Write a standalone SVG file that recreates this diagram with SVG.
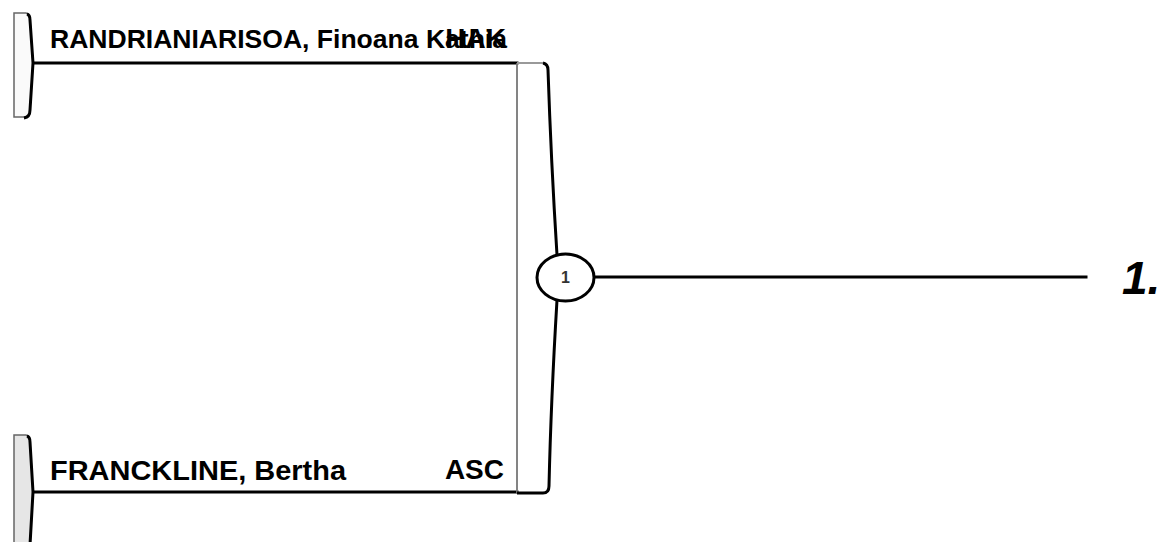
<svg xmlns="http://www.w3.org/2000/svg" width="1164" height="542" viewBox="0 0 1164 542">
<style>
.name{font-family:"Liberation Sans",Arial,sans-serif;font-weight:bold;fill:#000}
.club{font-family:"Liberation Sans",Arial,sans-serif;font-weight:bold;font-size:28px;fill:#000;text-anchor:end}
.line{stroke:#000;stroke-width:3;fill:none;stroke-linecap:square}
.thin{stroke:#777;stroke-width:1.8;fill:none}
.tabedge{stroke:#000;stroke-width:3;fill:none;stroke-linejoin:round}
</style>
<rect width="1164" height="542" fill="#fff"/>
<g id="connectors">
<line class="line" x1="33" y1="63" x2="517" y2="63"/>
<line class="line" x1="33" y1="492" x2="517" y2="492"/>
<line class="line" x1="595" y1="277" x2="1086" y2="277"/>
</g>
<g id="player1">
<path d="M14,13 L26,13 Q30,14 30,20 L33,63 L30,110 Q30,117 26,117 L14,117 Z" fill="#fafafa" stroke="#666" stroke-width="1.5"/>
<path class="tabedge" d="M27,14 Q30,15 30,20 L33,63 L30,110 Q30,117 24,118"/>
<text class="name" x="50" y="48" font-size="26" textLength="457" lengthAdjust="spacingAndGlyphs">RANDRIANIARISOA, Finoana Kathia</text>
<text class="club" x="506" y="48">HAK</text>
</g>
<g id="player2">
<path d="M14,435 L26,435 Q30,436 30,442 L33,492 L30,545 L14,545 Z" fill="#e6e6e6" stroke="#666" stroke-width="1.5"/>
<path class="tabedge" d="M27,436 Q30,437 30,442 L33,492 L30,545"/>
<text class="name" x="50" y="480" font-size="27" textLength="296" lengthAdjust="spacingAndGlyphs">FRANCKLINE, Bertha</text>
<text class="club" x="504" y="479">ASC</text>
</g>
<g id="match1">
<line class="thin" x1="517" y1="63" x2="517" y2="493"/>
<path d="M517,63 L543,63" stroke="#999" stroke-width="2" fill="none"/>
<path d="M543,63 Q548,64 548,70 Q551,160 557,255" stroke="#000" stroke-width="3" fill="none"/>
<path d="M557,300 Q551,400 549,486 Q549,493 543,493 L517,493" stroke="#000" stroke-width="3" fill="none"/>
<ellipse cx="565.5" cy="277.5" rx="28.5" ry="23.5" fill="#fff" stroke="#000" stroke-width="3"/>
<text x="565.5" y="283" font-family="Liberation Sans,Arial,sans-serif" font-weight="bold" font-size="16" fill="#333" text-anchor="middle">1</text>
</g>
<g id="result">
<text x="1122" y="294" font-family="Liberation Sans,Arial,sans-serif" font-weight="bold" font-style="italic" font-size="46" fill="#000">1.</text>
</g>
</svg>
